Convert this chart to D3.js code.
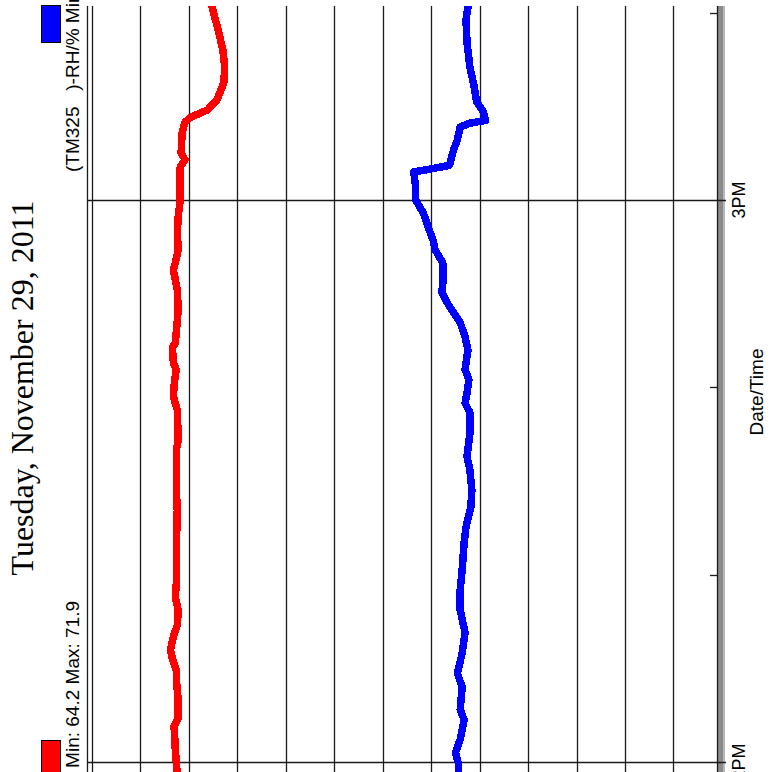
<!DOCTYPE html>
<html>
<head>
<meta charset="utf-8">
<script src="https://cdn.jsdelivr.net/npm/d3@7"></script>
<style>
  body { margin: 0; background: #fff; }
  svg { display: block; }
</style>
</head>
<body>
<div id="chart"></div>
<script>
// minutes after 2PM, Tuesday Nov 29 2011
const tempMinutes = [-1.4, 0, 1.3, 3.4, 3.7, 4.7, 6.6, 8.8, 9.8, 11.0, 12.0, 13.4, 14.6, 16.2, 17.6, 19.1, 22.6,
  26.9, 29.0, 33.3, 34.4, 37.6, 39.0, 40.5, 41.9, 42.6, 44.3, 44.7, 48.3, 50.4, 51.5, 52.5, 53.3, 54.7, 56.5,
  58.2, 60.0, 61.8, 63.5, 64.3, 65.0, 67.2, 68.3, 68.8, 69.6, 70.7, 72.5, 74.2, 76.0, 77.8, 80.6, 81.4];
const tempValues = [71.2, 71.3, 71.4, 71.5, 71.6, 71.1, 71.1, 71.3, 71.3, 71.7, 71.9, 71.6, 71.2, 71.1, 71.4, 71.3, 71.3,
  71.2, 71.3, 71.3, 71.1, 71.2, 71.6, 71.5, 71.3, 71.6, 71.7, 71.4, 71.1, 71.2, 71.4, 71.6, 71.4, 71.1, 71.2,
  71.1, 70.9, 70.9, 70.9, 70.4, 70.8, 70.7, 70.4, 69.9, 68.1, 67.1, 66.4, 66.3, 66.5, 66.9, 67.6, 67.7];

const rhMinutes = [-1.4, -0.1, 1.0, 2.4, 4.5, 5.6, 8.0, 9.5, 11.6, 13.8, 16.2, 18.4, 20.5, 23.4, 25.1, 27.2, 29.0,
  31.2, 32.6, 35.1, 37.3, 38.3, 39.4, 40.8, 41.9, 44.0, 45.4, 46.9, 48.6, 50.1, 51.1, 53.3, 54.7, 55.7, 57.1,
  58.6, 60.0, 61.4, 63.0, 63.3, 63.7, 65.3, 66.4, 67.8, 68.2, 68.5, 69.4, 70.5, 72.3, 74.2, 76.8, 79.2, 80.6, 81.4];
const rhValues = [42.2, 42.2, 42.5, 42.0, 41.6, 42.0, 41.8, 42.3, 41.8, 41.5, 42.0, 42.0, 41.8, 41.6, 41.4, 40.9, 40.8,
  41.0, 41.3, 41.0, 41.0, 41.5, 41.3, 41.1, 41.5, 41.2, 41.5, 42.0, 43.1, 43.9, 43.8, 43.8, 44.6, 44.8, 45.3,
  45.8, 46.6, 46.6, 46.8, 45.1, 43.1, 42.7, 42.3, 42.0, 41.0, 39.4, 39.6, 40.3, 40.6, 41.0, 41.3, 41.4, 41.2, 41.2];

const gridValues = [80, 75, 70, 65, 60, 55, 50, 45, 40, 35, 30, 25, 20];
const seriesNames = ['Min: 64.2 Max: 71.9', '(TM325   )-RH/% Min: 38.9 Max: 47.0'];
const seriesColors = ['#ff0000', '#0000ff'];
const chartTitle = 'Tuesday, November 29, 2011';
const axisTitle = 'Date/Time';

const cfg = {
  w: 772,
  h: 772,
  left: 92,
  right: 717,
  top: 6,
  bottom: 772,
  band: 8,
  font: '"Liberation Sans", Arial, sans-serif',
  serif: '"Liberation Serif", "Times New Roman", serif',
};

const start = new Date(2011, 10, 29, 14, 0, 0);
const toDate = m => new Date(start.getTime() + m * 60000);

// chart is shown turned a quarter turn: time runs bottom to top, values right to left
const t = d3.scaleTime()
  .domain([start, new Date(2011, 10, 29, 15, 0, 0)])
  .range([762, 200]);
const v = d3.scaleLinear()
  .domain([80, 15])
  .range([cfg.left, cfg.left + 65 * 9.69]);

const svg = d3.select('#chart')
  .append('svg')
  .attr('width', cfg.w)
  .attr('height', cfg.h);

// value grid
svg.selectAll('.grid')
  .data(gridValues)
  .enter()
  .append('line')
  .attr('x1', d => Math.round(v(d)) + 0.5)
  .attr('x2', d => Math.round(v(d)) + 0.5)
  .attr('y1', cfg.top)
  .attr('y2', cfg.bottom)
  .style('stroke', '#1a1a1a')
  .style('stroke-width', '1.3px');

svg.append('line')
  .attr('x1', 87.5).attr('x2', 87.5)
  .attr('y1', cfg.top).attr('y2', cfg.bottom)
  .style('stroke', '#1a1a1a')
  .style('stroke-width', '1.3px');

// time axis band
svg.append('rect')
  .attr('x', cfg.right)
  .attr('y', cfg.top)
  .attr('width', cfg.band)
  .attr('height', cfg.bottom - cfg.top)
  .style('fill', '#8a8a8a');
svg.append('line')
  .attr('x1', cfg.right + cfg.band - 1).attr('x2', cfg.right + cfg.band - 1)
  .attr('y1', cfg.top).attr('y2', cfg.bottom)
  .style('stroke', '#b8b8b8')
  .style('stroke-width', '2px');
svg.append('line')
  .attr('x1', cfg.right + 0.5).attr('x2', cfg.right + 0.5)
  .attr('y1', cfg.top).attr('y2', cfg.bottom)
  .style('stroke', '#1a1a1a')
  .style('stroke-width', '1.3px');

const hours = t.ticks(d3.timeHour.every(1));
const minor = t.ticks(d3.timeMinute.every(20))
  .concat([new Date(2011, 10, 29, 15, 20, 0)])
  .filter(d => d.getMinutes() !== 0);

svg.selectAll('.hour')
  .data(hours)
  .enter()
  .append('line')
  .attr('x1', 87)
  .attr('x2', cfg.right + cfg.band + 1)
  .attr('y1', d => Math.round(t(d)) + 0.5)
  .attr('y2', d => Math.round(t(d)) + 0.5)
  .style('stroke', '#1a1a1a')
  .style('stroke-width', '1.3px');

svg.selectAll('.minor')
  .data(minor)
  .enter()
  .append('line')
  .attr('x1', cfg.right - 7)
  .attr('x2', cfg.right)
  .attr('y1', d => Math.round(t(d)) + 0.5)
  .attr('y2', d => Math.round(t(d)) + 0.5)
  .style('stroke', '#1a1a1a')
  .style('stroke-width', '1.3px');

const rotated = (x, y) => `translate(${x}, ${y}) rotate(-90)`;

svg.selectAll('.hourLabel')
  .data(hours)
  .enter()
  .append('text')
  .attr('transform', d => rotated(745, t(d)))
  .attr('text-anchor', 'middle')
  .style('font-family', cfg.font)
  .style('font-size', '18px')
  .attr('fill', '#000')
  .text(d3.timeFormat('%-I%p'));

svg.append('text')
  .attr('transform', rotated(763, 392))
  .attr('text-anchor', 'middle')
  .style('font-family', cfg.font)
  .style('font-size', '19px')
  .attr('fill', '#000')
  .text(axisTitle);

svg.append('text')
  .attr('transform', rotated(33, 388))
  .attr('text-anchor', 'middle')
  .style('font-family', cfg.serif)
  .style('font-size', '32px')
  .attr('fill', '#000')
  .text(chartTitle);

// legend
svg.append('rect')
  .attr('x', 41.5).attr('y', 740.5)
  .attr('width', 19).attr('height', 38)
  .style('fill', seriesColors[0])
  .style('stroke', '#000');
svg.append('rect')
  .attr('x', 41.5).attr('y', 5.5)
  .attr('width', 19).attr('height', 37)
  .style('fill', seriesColors[1])
  .style('stroke', '#000');

svg.append('text')
  .attr('transform', rotated(79, 601))
  .attr('text-anchor', 'end')
  .style('font-family', cfg.font)
  .style('font-size', '19px')
  .attr('fill', '#000')
  .text(seriesNames[0]);
svg.append('text')
  .attr('transform', rotated(79, 172))
  .attr('text-anchor', 'start')
  .style('font-family', cfg.font)
  .style('font-size', '19px')
  .style('white-space', 'pre')
  .attr('fill', '#000')
  .text(seriesNames[1]);

// data lines
svg.append('clipPath')
  .attr('id', 'plot')
  .append('rect')
  .attr('x', cfg.left)
  .attr('y', cfg.top)
  .attr('width', cfg.right - cfg.left)
  .attr('height', cfg.bottom - cfg.top);

const line = d3.line()
  .x(d => v(d[1]))
  .y(d => t(toDate(d[0])));

const series = [
  d3.zip(tempMinutes, tempValues),
  d3.zip(rhMinutes, rhValues),
];

svg.selectAll('.series')
  .data(series)
  .enter()
  .append('path')
  .attr('clip-path', 'url(#plot)')
  .attr('d', line)
  .style('fill', 'none')
  .style('stroke', (_, i) => seriesColors[i])
  .style('stroke-width', '7.5px')
  .style('stroke-linejoin', 'round')
  .style('stroke-linecap', 'square')
  .style('shape-rendering', 'crispEdges');
</script>
</body>
</html>
